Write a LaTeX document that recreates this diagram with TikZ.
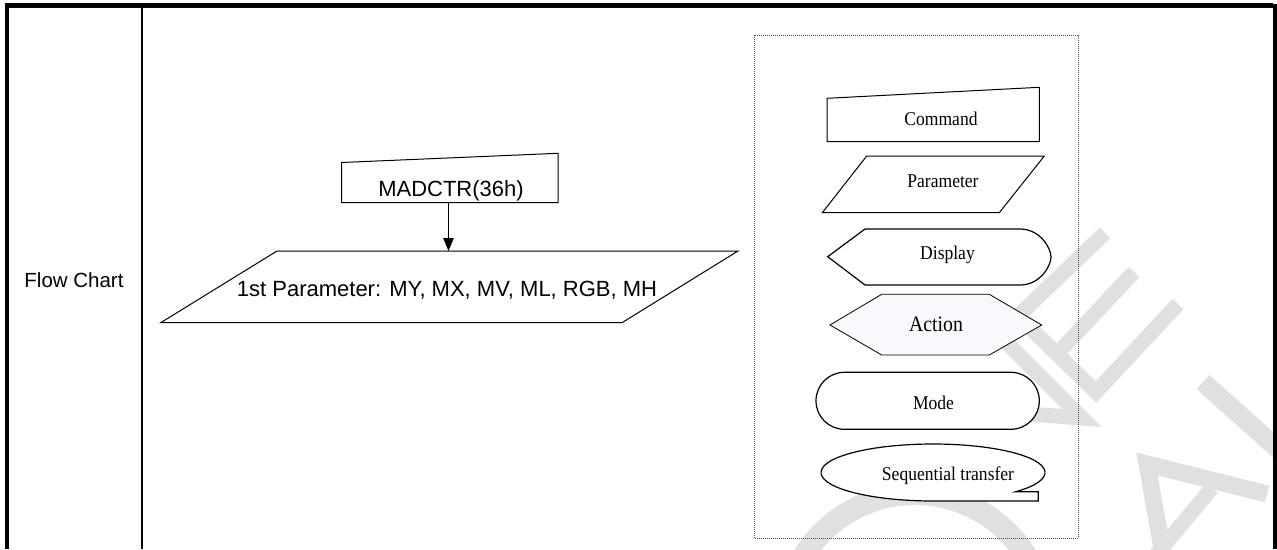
\documentclass[tikz,border=0pt]{standalone}
\usepackage{fontspec}
\setmainfont{Liberation Serif}
\newfontfamily\arialf{Liberation Sans}
\newfontfamily\timesf[FakeStretch=0.9]{Liberation Serif}
\usetikzlibrary{arrows.meta}
\definecolor{wmgray}{RGB}{224,224,224}
\definecolor{actfill}{RGB}{247,249,252}
\definecolor{dotgray}{RGB}{80,80,80}
\begin{document}
\begin{tikzpicture}[x=1pt,y=-1pt,
  wm/.style={draw=wmgray, line cap=butt, line join=miter},
  shp/.style={draw=black, fill=white, line width=1pt, line join=miter},
  sanslbl/.style={inner sep=0pt, anchor=base, font=\arialf\fontsize{22}{26}\selectfont},
  serlbl/.style={inner sep=0pt, anchor=base, font=\timesf\fontsize{19.5}{23}\selectfont},
  conn/.style={draw=black, line width=1pt, -{Triangle[length=13pt,width=10.5pt]}}
]
\useasboundingbox (0,0) rectangle (1277,549);
\fill[white] (0,0) rectangle (1277,549);

% watermark (behind everything)
\draw[wm, line width=22pt] (915,625) ++(-152:131) arc[start angle=-152, end angle=-15, radius=131];
\draw[wm, line width=15pt] (1105,233) -- (1018,316) -- (1096,392) -- (1178,304);
\draw[wm, line width=15pt] (1057,354) -- (1134,272);
\draw[wm, line width=15pt] (937,407) -- (1082,418) -- (1004,340);
\draw[wm, line width=17pt] (1267,494) -- (1147,464) -- (1164,560);
\draw[wm, line width=15pt] (1212,488) -- (1156,555);
\draw[wm, line width=19pt] (1203,382) -- (1290,460);

% table frame
\draw[line width=5pt] (5,5.5) -- (1273,5.5);
\draw[line width=4pt] (7,3.5) -- (7,549);
\draw[line width=3.5pt] (1275,3.5) -- (1275,549);
\draw[line width=2.3pt] (142,8) -- (142,549);

\node[sanslbl, font=\arialf\fontsize{20.5}{24}\selectfont] (lblflow) at (74,287) {Flow Chart};

% flow chart
\draw[shp] (341.5,162.5) -- (558,153.3) -- (558,202.5) -- (341.5,202.5) -- cycle;
\node[sanslbl] (madctr) at (451,196.7) {MADCTR(36h)};
\draw[shp] (277,251) -- (738,251) -- (622,322.7) -- (160.7,322.7) -- cycle;
\node[sanslbl] (param1) at (447,296) {1st Parameter: MY, MX, MV, ML, RGB, MH};
\coordinate (cmdbot) at (448.5,202.5);
\coordinate (partop) at (448.5,251);
\draw[conn] (cmdbot) -- (partop);

% legend
\draw[dotgray, line width=0.8pt, dash pattern=on 0.8pt off 1.2pt] (754,35) rectangle (1078,538);

\draw[shp] (827,98.3) -- (1039.3,87.3) -- (1039.3,141.7) -- (827,141.7) -- cycle;
\node[serlbl] (cmd) at (941,125) {Command};

\draw[shp] (866.7,156) -- (1044.3,156) -- (999.3,212.7) -- (822.3,212.7) -- cycle;
\node[serlbl] (par) at (943,187.3) {Parameter};

\draw[shp, line width=1.2pt] (827.7,256.7) -- (865,229) -- (1020,229)
  .. controls (1040,229) and (1051,248) .. (1051,257)
  .. controls (1051,266) and (1040,285) .. (1020,285) -- (865,285) -- cycle;
\node[serlbl] (disp) at (947.5,259) {Display};

\draw[shp, fill=actfill, line width=0.8pt] (830,325) -- (881.7,294.3) -- (989.3,294.3) -- (1041.7,325) -- (989.3,355) -- (881.7,355) -- cycle;
\node[serlbl, font=\timesf\fontsize{22}{26}\selectfont] (act) at (936,331.7) {Action};

\draw[shp, line width=1.2pt, rounded corners=28.4pt] (816,372.3) rectangle (1039.3,429.3);
\node[serlbl] (mode) at (933.5,409.3) {Mode};

\draw[shp, line width=1.2pt] (933,472.5) ++(42.6:112 and 28.5)
  arc[start angle=42.6, end angle=-270, x radius=112, y radius=28.5]
  -- (1038.3,501) -- (1038.3,491.7) -- cycle;
\node[serlbl] (seq) at (948,480.7) {Sequential transfer};
\end{tikzpicture}
\end{document}
